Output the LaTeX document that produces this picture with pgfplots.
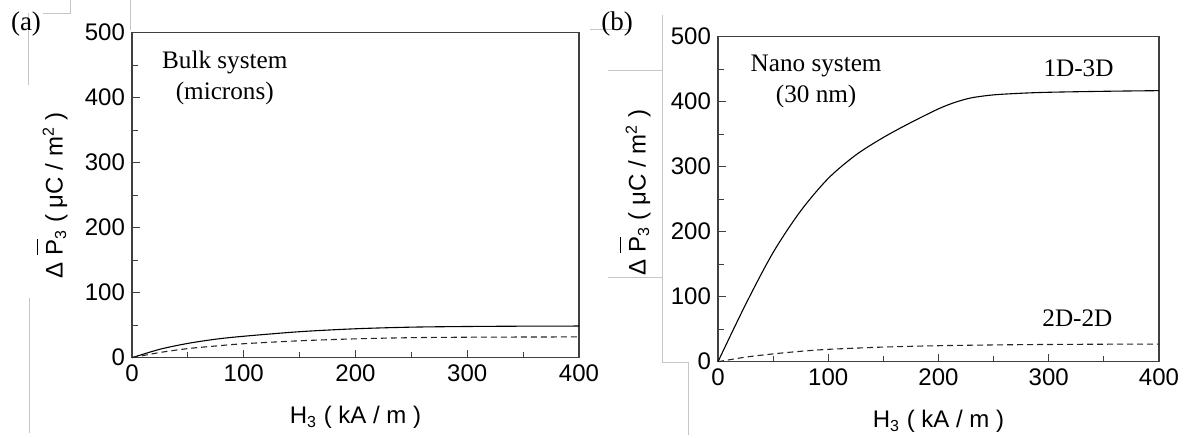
\documentclass[border=0pt]{standalone}
\usepackage{fontspec}
\setmainfont{Liberation Sans}
\newfontfamily\serif{Liberation Serif}
\usepackage{pgfplots}
\pgfplotsset{compat=1.18}
\begin{document}
\begin{tikzpicture}
\pgfplotsset{
  myax/.style={
    scale only axis,
    xmin=0,xmax=400,ymin=0,ymax=500,
    xtick={0,100,...,400}, ytick={0,100,...,500},
    minor xtick={50,150,250,350}, minor ytick={50,150,...,450},
    tick pos=left, tick align=inside,
    major tick length=4pt, minor tick length=3pt,
    axis line style={black!75, line width=0.75pt},
    every tick/.style={black!75, line width=0.6pt},
    tick label style={font=\fontsize{12}{14}\selectfont},
    /pgf/number format/assume math mode=true,
    label style={font=\fontsize{12}{14}\selectfont},
    xlabel={H$_{\mbox{\fontsize{8}{9}\selectfont 3}}$ ( kA / m )},
    xlabel style={at={(axis description cs:0.5,0)}, anchor=center, yshift=-30pt},
    ylabel={Δ\ $\overline{\mbox{\raisebox{0pt}[11pt]{P}}}_{\mbox{\fontsize{8}{9}\selectfont 3}}$ ( μC / m$^{\mbox{\fontsize{8}{9}\selectfont 2}}$ )},
    clip=false,
  },
  solidc/.style={black, line width=0.55pt, smooth},
  dashc/.style={black!85, line width=0.55pt, dash pattern=on 3pt off 2pt, smooth},
}
\path[use as bounding box] (0,0) rectangle (593.5pt,219pt);
% faint scan artefact lines
\begin{scope}[gray!45, line width=0.4pt]
\draw (14pt,212.5pt) -- (14pt,176.5pt);
\draw (21.5pt,212.5pt) -- (35pt,212.5pt) -- (35pt,219pt);
\draw (65pt,219pt) -- (65pt,204pt);
\draw (14.5pt,70pt) -- (14.5pt,2.5pt);
\draw (295pt,204.5pt) -- (315pt,204.5pt);
\draw (331pt,211.5pt) -- (331pt,38pt) -- (344pt,38pt) -- (344pt,1.5pt);
\draw (304pt,184pt) -- (331pt,184pt);
\draw (304pt,80.5pt) -- (331pt,80.5pt);
\end{scope}
\node[font=\serif\fontsize{13.5}{15}\selectfont] at (13pt,207pt) {(a)};
\node[font=\serif\fontsize{13.5}{15}\selectfont] at (308.5pt,207pt) {(b)};
\begin{axis}[myax, at={(66pt,40.15pt)}, anchor=south west, width=223.5pt, height=162.5pt,
  ylabel style={at={(axis description cs:-0.179,0.5)}, anchor=center}]
\addplot[solidc] coordinates {(0,0) (25,13) (50,22) (75,28.5) (100,33) (150,40) (200,44.5) (250,47) (300,48) (350,48.5) (400,48.7)};
\addplot[dashc] coordinates {(0,0) (25,8) (50,14) (75,18) (100,21.5) (150,26) (200,29) (250,30.8) (300,31.5) (350,31.8) (400,32)};
\node[font=\serif\fontsize{12.6}{15.5}\selectfont, align=center] at (axis cs:83,430) {Bulk system\\(microns)};
\end{axis}
\begin{axis}[myax, at={(359pt,38.15pt)}, anchor=south west, width=220.5pt, height=162.5pt,
  ylabel style={at={(axis description cs:-0.188,0.52)}, anchor=center}]
\addplot[solidc] coordinates {(0,0) (25,88) (50,168) (75,232) (100,282) (125,318) (150,345) (175,368) (200,389) (215,399) (230,406) (250,410.5) (275,413) (300,414.5) (350,416) (400,417)};
\addplot[dashc] coordinates {(0,0) (25,7) (50,12) (75,16) (100,19) (150,22.5) (200,24.6) (250,25.8) (300,26.5) (350,26.9) (400,27.1)};
\node[font=\serif\fontsize{12.6}{15.5}\selectfont, align=center] at (axis cs:89,431) {Nano system\\(30 nm)};
\node[font=\serif\fontsize{12.6}{15.5}\selectfont] at (axis cs:327,452) {1D-3D};
\node[font=\serif\fontsize{12.6}{15.5}\selectfont] at (axis cs:326,67) {2D-2D};
\end{axis}
\end{tikzpicture}
\end{document}
